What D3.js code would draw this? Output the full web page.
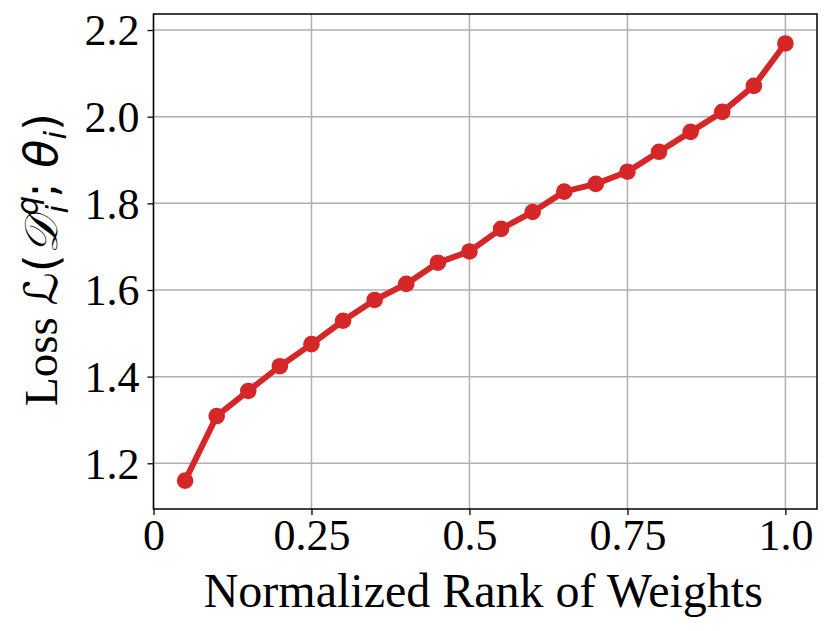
<!DOCTYPE html>
<html><head><meta charset="utf-8">
<script src="https://d3js.org/d3.v7.min.js"></script>
<style>body{margin:0;background:#fff}</style>
</head><body>
<svg id="c" width="831" height="631"></svg>
<script>
const ranks = [0.05,0.10,0.15,0.20,0.25,0.30,0.35,0.40,0.45,0.50,0.55,0.60,0.65,0.70,0.75,0.80,0.85,0.90,0.95,1.00];
const losses = [1.160,1.309,1.367,1.424,1.475,1.529,1.577,1.614,1.663,1.689,1.741,1.780,1.827,1.845,1.873,1.919,1.965,2.011,2.071,2.169];
const xTicks = [0,0.25,0.5,0.75,1.0];
const xTickLabels = ["0","0.25","0.5","0.75","1.0"];
const yTicks = [1.2,1.4,1.6,1.8,2.0,2.2];
const yTickLabels = ["1.2","1.4","1.6","1.8","2.0","2.2"];

const svg = d3.select("#c");
const L = 153.5, R = 817, T = 14, B = 509;
const x = d3.scaleLinear().domain([0,1.05]).range([L,R]);
const y = d3.scaleLinear().domain([1.0945,2.237]).range([B,T]);
const serif = "'Liberation Serif','Times New Roman',serif";
const color = "#d62728";

// grid
const g = svg.append("g");
g.selectAll(".gx").data(xTicks).enter().append("line")
  .attr("x1",d=>x(d)).attr("x2",d=>x(d)).attr("y1",T).attr("y2",B)
  .attr("stroke","#b0b0b0").attr("stroke-width",1.5);
g.selectAll(".gy").data(yTicks).enter().append("line")
  .attr("y1",d=>y(d)).attr("y2",d=>y(d)).attr("x1",L).attr("x2",R)
  .attr("stroke","#b0b0b0").attr("stroke-width",1.5);

// axes
const xAxis = d3.axisBottom(x).tickValues(xTicks).tickFormat((d,i)=>xTickLabels[i]).tickSize(6).tickPadding(4);
const yAxis = d3.axisLeft(y).tickValues(yTicks).tickFormat((d,i)=>yTickLabels[i]).tickSize(6).tickPadding(8);
const gx = svg.append("g").attr("transform",`translate(0,${B})`).call(xAxis);
const gy = svg.append("g").attr("transform",`translate(${L},0)`).call(yAxis);
[gx,gy].forEach(a=>{
  a.select(".domain").remove();
  a.selectAll(".tick line").attr("stroke","#000").attr("stroke-width",1.3);
  a.selectAll(".tick text").attr("font-family",serif).attr("font-size",44).attr("fill","#000");
});
gy.selectAll(".tick text").attr("dy","0.34em");

// frame
svg.append("rect").attr("x",L).attr("y",T).attr("width",R-L).attr("height",B-T)
  .attr("fill","none").attr("stroke","#000").attr("stroke-width",1.5);

// line + markers
const line = d3.line().x((d,i)=>x(ranks[i])).y(d=>y(d));
svg.append("path").datum(losses).attr("d",line).attr("fill","none")
  .attr("stroke",color).attr("stroke-width",6).attr("stroke-linejoin","round");
svg.selectAll(".pt").data(losses).enter().append("circle")
  .attr("cx",(d,i)=>x(ranks[i])).attr("cy",d=>y(d)).attr("r",8.3).attr("fill",color);

// x label
svg.append("text").attr("x",(L+R)/2 - 2).attr("y",607).attr("text-anchor","middle")
  .attr("font-family",serif).attr("font-size",48).attr("fill","#000")
  .text("Normalized Rank of Weights");

// y label
const math = "'DejaVu Sans',sans-serif";
const MS = 46, SS = 31;
const yl = svg.append("text").attr("transform",`translate(57,${(T+B)/2 - 2}) rotate(-90)`)
  .attr("text-anchor","middle").attr("font-family",serif).attr("font-size",47).attr("fill","#000");
yl.append("tspan").text("Loss ");
yl.append("tspan").attr("font-family",math).attr("font-size",MS).text("ℒ(");
yl.append("tspan").attr("font-family",math).attr("font-size",MS).attr("font-style","italic").text("𝒟");
const q = yl.append("tspan").attr("font-family",math).attr("font-size",SS).attr("font-style","italic").attr("dx",2).attr("dy",-19).text("q");
const sub = yl.append("tspan").attr("font-family",math).attr("font-size",SS).attr("font-style","italic").attr("dy",30).text("i");
yl.append("tspan").attr("font-family",math).attr("font-size",MS).attr("dx",7).attr("dy",-11).text("; ");
yl.append("tspan").attr("font-family",math).attr("font-size",MS).attr("font-style","italic").text("θ");
yl.append("tspan").attr("font-family",math).attr("font-size",SS).attr("font-style","italic").attr("dy",9).text("i");
yl.append("tspan").attr("font-family",math).attr("font-size",MS).attr("dy",-9).text(")");
// place subscript i under superscript q
const qw = q.node().getComputedTextLength();
sub.attr("dx", -qw + 2);
</script>
</body></html>
